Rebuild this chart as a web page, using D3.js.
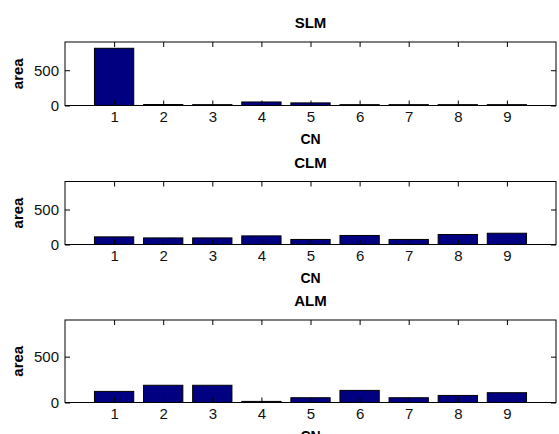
<!DOCTYPE html>
<html>
<head>
<meta charset="utf-8">
<script src="https://cdn.jsdelivr.net/npm/d3@7"></script>
<style>
  html, body { margin: 0; padding: 0; background: #fff; }
  svg { display: block; font-family: "Liberation Sans", Arial, Helvetica, sans-serif; }
</style>
</head>
<body>
<div id="chart"></div>
<script>
// Data
const categories = [1, 2, 3, 4, 5, 6, 7, 8, 9];
const slmArea = [811, 14, 12, 50, 37, 12, 12, 12, 12];
const clmArea = [109, 94, 94, 123, 72, 129, 72, 143, 161];
const almArea = [121, 188, 188, 12, 52, 132, 52, 77, 107];
const yTicks = [0, 500];
const xDomain = [0, 10];
const yDomain = [0, 900];

const panels = [
  { title: 'SLM', values: slmArea, top: 42, bottom: 105.5 },
  { title: 'CLM', values: clmArea, top: 181.5, bottom: 244.5 },
  { title: 'ALM', values: almArea, top: 320, bottom: 402.5 }
];

const width = 559, height = 434;
const left = 65, right = 556;

const svg = d3.select('#chart')
  .append('svg')
  .attr('width', width)
  .attr('height', height);

const x = d3.scaleLinear().domain(xDomain).range([left, right]);

panels.forEach(p => {
  const y = d3.scaleLinear().domain(yDomain).range([p.bottom, p.top]);
  const g = svg.append('g');

  // Bars
  g.selectAll('rect.bar')
    .data(categories.map((c, i) => ({ c, v: p.values[i] })))
    .join('rect')
    .attr('class', 'bar')
    .attr('x', d => x(d.c - 0.4))
    .attr('width', d => x(d.c + 0.4) - x(d.c - 0.4))
    .attr('y', d => y(d.v))
    .attr('height', d => y(0) - y(d.v))
    .attr('fill', '#000080')
    .attr('stroke', '#000')
    .attr('stroke-width', 1);

  // Axes, ticks pointing inward (MATLAB style)
  const bottomAxis = g.append('g')
    .attr('transform', `translate(0,${p.bottom})`)
    .call(d3.axisBottom(x).tickValues(categories).tickSize(-5).tickPadding(6));
  const topAxis = g.append('g')
    .attr('transform', `translate(0,${p.top})`)
    .call(d3.axisTop(x).tickValues(categories).tickSize(-5).tickFormat(''));
  const leftAxis = g.append('g')
    .attr('transform', `translate(${left},0)`)
    .call(d3.axisLeft(y).tickValues(yTicks).tickSize(-5).tickPadding(6));
  const rightAxis = g.append('g')
    .attr('transform', `translate(${right},0)`)
    .call(d3.axisRight(y).tickValues(yTicks).tickSize(-5).tickFormat(''));

  [bottomAxis, topAxis, leftAxis, rightAxis].forEach(a => {
    a.select('.domain').remove();
    a.selectAll('line').attr('stroke', '#000');
    a.selectAll('text')
      .attr('fill', '#111')
      .style('font-size', '15px')
      .style('font-family', '"Liberation Sans", Arial, sans-serif');
  });

  // Box
  g.append('rect')
    .attr('x', left)
    .attr('y', p.top)
    .attr('width', right - left)
    .attr('height', p.bottom - p.top)
    .attr('fill', 'none')
    .attr('stroke', '#000')
    .attr('stroke-width', 1);

  // Title
  g.append('text')
    .attr('x', (left + right) / 2)
    .attr('y', p.top - 14)
    .attr('text-anchor', 'middle')
    .style('font-size', '15px')
    .style('font-weight', 'bold')
    .text(p.title);

  // X label
  g.append('text')
    .attr('x', (left + right) / 2)
    .attr('y', p.bottom + 38)
    .attr('text-anchor', 'middle')
    .style('font-size', '14px')
    .style('font-weight', 'bold')
    .text('CN');

  // Y label
  g.append('text')
    .attr('transform', `translate(23,${(p.top + p.bottom) / 2}) rotate(-90)`)
    .attr('text-anchor', 'middle')
    .style('font-size', '15px')
    .style('font-weight', 'bold')
    .text('area');
});
</script>
</body>
</html>
